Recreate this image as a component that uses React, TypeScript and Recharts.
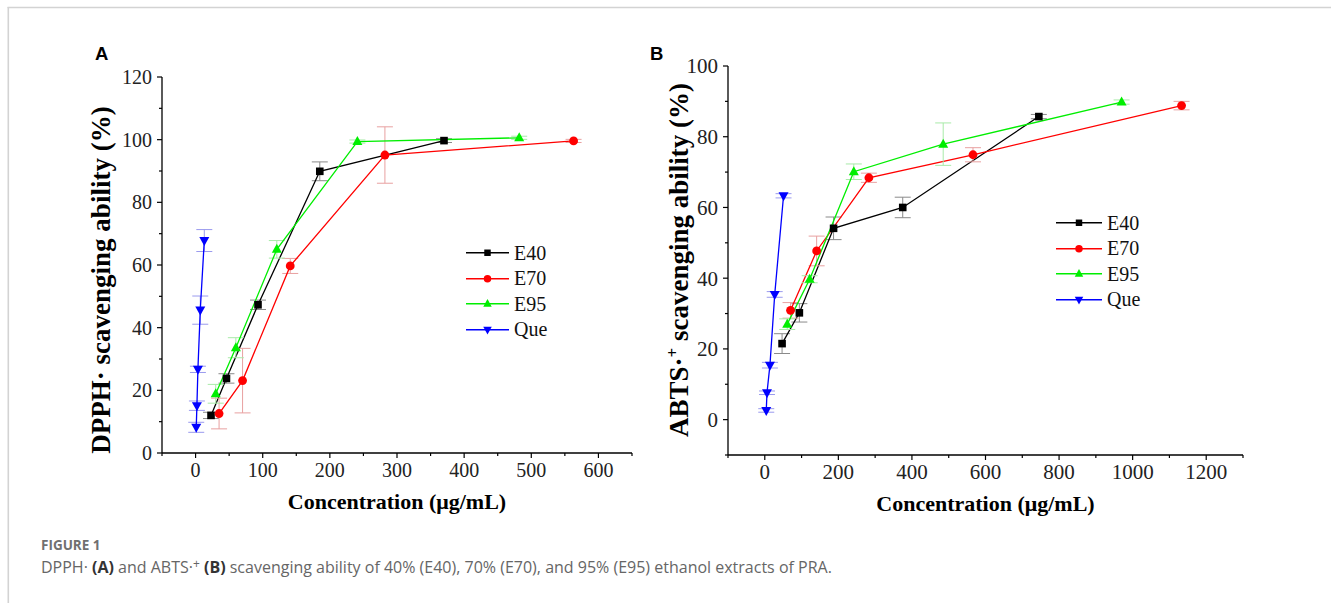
import React from 'react'
import { LineChart, Line, XAxis, YAxis, ErrorBar, Legend } from 'recharts'

// Panel A: DPPH scavenging, c = concentration (µg/mL), v = %, e = error
const dpphE40 = [
  { c: 23, v: 12.0, e: 1.0 },
  { c: 46, v: 23.8, e: 1.5 },
  { c: 93, v: 47.3, e: 1.5 },
  { c: 185, v: 89.9, e: 3.0 },
  { c: 370, v: 99.7, e: 0.6 },
]
const dpphE70 = [
  { c: 35, v: 12.6, e: 4.9 },
  { c: 70, v: 23.1, e: 10.3 },
  { c: 141, v: 59.7, e: 2.4 },
  { c: 282, v: 95.1, e: 9.0 },
  { c: 563, v: 99.6, e: 0.5 },
]
const dpphE95 = [
  { c: 30, v: 18.9, e: 3.0 },
  { c: 60, v: 33.6, e: 3.2 },
  { c: 121, v: 65.0, e: 2.8 },
  { c: 241, v: 99.4, e: 0.5 },
  { c: 482, v: 100.6, e: 0.5 },
]
const dpphQue = [
  { c: 1, v: 8.2, e: 1.6 },
  { c: 2, v: 15.1, e: 1.5 },
  { c: 3.5, v: 26.7, e: 1.0 },
  { c: 7, v: 45.6, e: 4.5 },
  { c: 13, v: 67.8, e: 3.5 },
]

// Panel B: ABTS scavenging
const abtsE40 = [
  { c: 47, v: 21.5, e: 2.8 },
  { c: 94, v: 30.2, e: 2.6 },
  { c: 187, v: 54.1, e: 3.2 },
  { c: 375, v: 60.0, e: 2.9 },
  { c: 745, v: 85.7, e: 0.6 },
]
const abtsE70 = [
  { c: 70, v: 30.9, e: 2.2 },
  { c: 141, v: 47.7, e: 4.2 },
  { c: 283, v: 68.4, e: 1.3 },
  { c: 566, v: 74.9, e: 2.0 },
  { c: 1133, v: 88.8, e: 1.2 },
]
const abtsE95 = [
  { c: 61, v: 27.0, e: 1.5 },
  { c: 122, v: 39.7, e: 1.0 },
  { c: 242, v: 70.1, e: 2.2 },
  { c: 485, v: 77.9, e: 6.0 },
  { c: 970, v: 89.8, e: 0.6 },
]
const abtsQue = [
  { c: 4, v: 2.6, e: 0.5 },
  { c: 6, v: 7.6, e: 0.5 },
  { c: 14, v: 15.4, e: 0.8 },
  { c: 27, v: 35.4, e: 0.8 },
  { c: 51, v: 63.3, e: 0.6 },
]

const dpphXTicks = [-50, 0, 50, 100, 150, 200, 250, 300, 350, 400, 450, 500, 550, 600, 650]
const dpphYTicks = [0, 10, 20, 30, 40, 50, 60, 70, 80, 90, 100, 110, 120]
const abtsXTicks = [-100, 0, 100, 200, 300, 400, 500, 600, 700, 800, 900, 1000, 1100, 1200, 1300]
const abtsYTicks = [-10, 0, 10, 20, 30, 40, 50, 60, 70, 80, 90, 100]

const SERIF = '"Liberation Serif", "Times New Roman", serif'

const seriesStyle = [
  { name: 'E40', color: '#000000', err: '#8a8a8a', shape: 'square' },
  { name: 'E70', color: '#ff0000', err: '#e8a0a0', shape: 'circle' },
  { name: 'E95', color: '#00ee00', err: '#a8eaa8', shape: 'up' },
  { name: 'Que', color: '#0000ff', err: '#9a9aee', shape: 'down' },
]

function Marker({ shape, cx, cy, color, s = 1 }: any) {
  if (cx == null || cy == null) return null
  if (shape === 'square')
    return <rect x={cx - 3.8 * s} y={cy - 3.8 * s} width={7.6 * s} height={7.6 * s} fill={color} />
  if (shape === 'circle') return <circle cx={cx} cy={cy} r={4.4 * s} fill={color} />
  if (shape === 'up')
    return (
      <polygon
        points={`${cx},${cy - 5.5 * s} ${cx - 5 * s},${cy + 3.5 * s} ${cx + 5 * s},${cy + 3.5 * s}`}
        fill={color}
      />
    )
  return (
    <polygon
      points={`${cx - 5 * s},${cy - 3.5 * s} ${cx + 5 * s},${cy - 3.5 * s} ${cx},${cy + 5.5 * s}`}
      fill={color}
    />
  )
}

const makeXTick = (step: number, fs: number) => (p: any) => {
  const v = p.payload.value
  const major = v >= 0 && v % step === 0
  return (
    <g key={`xt-${v}`}>
      <line x1={p.x} x2={p.x} y1={p.y} y2={p.y + (major ? 5 : 3)} stroke="#000" strokeWidth={1.2} />
      {major && (
        <text x={p.x} y={p.y + 24} textAnchor="middle" fontFamily={SERIF} fontSize={fs} fill="#222">
          {v}
        </text>
      )}
    </g>
  )
}

const makeYTick = (step: number, fs: number) => (p: any) => {
  const v = p.payload.value
  const major = v >= 0 && v % step === 0
  return (
    <g key={`yt-${v}`}>
      <line x1={p.x - (major ? 5 : 3)} x2={p.x} y1={p.y} y2={p.y} stroke="#000" strokeWidth={1.2} />
      {major && (
        <text x={p.x - 10} y={p.y} dy="0.35em" textAnchor="end" fontFamily={SERIF} fontSize={fs} fill="#222">
          {v}
        </text>
      )}
    </g>
  )
}

function LegendBox({ lineW, rowH }: any) {
  return (
    <div style={{ fontFamily: SERIF, fontSize: 20, color: '#111' }}>
      {seriesStyle.map((it) => (
        <div key={it.name} style={{ display: 'flex', alignItems: 'center', height: rowH }}>
          <svg width={lineW} height={rowH} style={{ display: 'block' }}>
            <line x1={0} x2={lineW} y1={rowH / 2} y2={rowH / 2} stroke={it.color} strokeWidth={1.3} />
            <Marker shape={it.shape} cx={lineW / 2} cy={rowH / 2} color={it.color} s={0.85} />
          </svg>
          <span style={{ marginLeft: 5, lineHeight: 1 }}>{it.name}</span>
        </div>
      ))}
    </div>
  )
}

function Panel({ sets, xTicks, yTicks, xDomain, yDomain, xStep, yStep, fs, margin, yTitle, legendPos, legendW }: any) {
  return (
    <LineChart width={1331} height={603} margin={margin}>
      <XAxis
        type="number"
        dataKey="c"
        domain={xDomain}
        ticks={xTicks}
        interval={0}
        height={40}
        tickSize={0}
        tickMargin={0}
        tickLine={false}
        axisLine={{ stroke: '#000', strokeWidth: 1.3 }}
        tick={makeXTick(xStep, fs)}
        allowDataOverflow
        label={{
          value: 'Concentration (μg/mL)',
          position: 'bottom',
          offset: 0,
          style: { fontFamily: SERIF, fontSize: 22, fontWeight: 700, fill: '#000' },
        }}
      />
      <YAxis
        type="number"
        dataKey="v"
        domain={yDomain}
        ticks={yTicks}
        interval={0}
        width={60}
        tickSize={0}
        tickMargin={0}
        tickLine={false}
        axisLine={{ stroke: '#000', strokeWidth: 1.3 }}
        tick={makeYTick(yStep, fs)}
        allowDataOverflow
        label={{ content: yTitle }}
      />
      {sets.map((data: any[], i: number) => {
        const st = seriesStyle[i]
        return (
          <Line
            key={st.name}
            name={st.name}
            data={data}
            dataKey="v"
            stroke={st.color}
            strokeWidth={1.3}
            isAnimationActive={false}
            activeDot={false}
            dot={(p: any) => (
              <Marker key={`${st.name}-${p.index}`} shape={st.shape} cx={p.cx} cy={p.cy} color={st.color} />
            )}
          >
            <ErrorBar dataKey="e" direction="y" width={8} stroke={st.err} strokeWidth={1} />
          </Line>
        )
      })}
      <Legend
        layout="vertical"
        align="center"
        verticalAlign="middle"
        wrapperStyle={{ left: legendPos[0], top: legendPos[1], width: 'auto', height: 'auto' }}
        content={() => <LegendBox lineW={legendW} rowH={25.5} />}
      />
    </LineChart>
  )
}

const dpphTitle = (p: any) => {
  const vb = p.viewBox
  const cx = vb.x + 8
  const cy = 280
  return (
    <text
      x={cx}
      y={cy}
      transform={`rotate(-90 ${cx} ${cy})`}
      textAnchor="middle"
      fontFamily={SERIF}
      fontSize={27}
      fontWeight={700}
      fill="#000"
    >
      DPPH· scavenging ability (%)
    </text>
  )
}

const abtsTitle = (p: any) => {
  const vb = p.viewBox
  const cx = vb.x + 20
  const cy = 260
  return (
    <text
      x={cx}
      y={cy}
      transform={`rotate(-90 ${cx} ${cy})`}
      textAnchor="middle"
      fontFamily={SERIF}
      fontSize={27}
      fontWeight={700}
      fill="#000"
    >
      ABTS·
      <tspan dy={-10} fontSize={17}>+</tspan>
      <tspan dy={10}> scavenging ability (%)</tspan>
    </text>
  )
}

export default function App() {
  return (
    <div style={{ position: 'absolute', left: 0, top: 0, width: 1331, height: 603, background: '#fff', overflow: 'hidden' }}>
      <svg width={1331} height={603} style={{ position: 'absolute', left: 0, top: 0 }}>
        <line x1={7.5} x2={1331} y1={7.5} y2={7.5} stroke="#d3d3d3" strokeWidth={1.6} />
        <line x1={8.3} x2={8.3} y1={7} y2={603} stroke="#d3d3d3" strokeWidth={1.6} />
        <text x={95} y={60} fontFamily='"Liberation Sans", Arial, sans-serif' fontWeight={700} fontSize={18.5} fill="#000">
          A
        </text>
        <text x={650} y={60} fontFamily='"Liberation Sans", Arial, sans-serif' fontWeight={700} fontSize={18.5} fill="#000">
          B
        </text>
        <text x={41} y={550} fontFamily='"Open Sans", sans-serif' fontWeight={700} fontSize={13.5} fill="#707070">
          FIGURE 1
        </text>
        <text x={41} y={573} fontFamily='"Open Sans", sans-serif' fontSize={16} fill="#666">
          DPPH· <tspan fontWeight={700} fill="#333">(A)</tspan> and ABTS·
          <tspan dy={-5} fontSize={12}>+</tspan>
          <tspan dy={5}> </tspan>
          <tspan fontWeight={700} fill="#333">(B)</tspan> scavenging ability of 40% (E40), 70% (E70), and 95% (E95) ethanol
          extracts of PRA.
        </text>
      </svg>
      <div style={{ position: 'absolute', left: 0, top: 0 }}>
        <Panel
          sets={[dpphE40, dpphE70, dpphE95, dpphQue]}
          xTicks={dpphXTicks}
          yTicks={dpphYTicks}
          xDomain={[-50, 650]}
          yDomain={[0, 120]}
          xStep={100}
          yStep={20}
          fs={20}
          margin={{ top: 77, right: 699, bottom: 110, left: 102 }}
          yTitle={dpphTitle}
          legendPos={[466, 240]}
          legendW={43}
        />
      </div>
      <div style={{ position: 'absolute', left: 0, top: 0 }}>
        <Panel
          sets={[abtsE40, abtsE70, abtsE95, abtsQue]}
          xTicks={abtsXTicks}
          yTicks={abtsYTicks}
          xDomain={[-100, 1300]}
          yDomain={[-10, 100]}
          xStep={200}
          yStep={20}
          fs={21}
          margin={{ top: 66, right: 88, bottom: 108, left: 668 }}
          yTitle={abtsTitle}
          legendPos={[1056, 210]}
          legendW={46}
        />
      </div>
    </div>
  )
}
